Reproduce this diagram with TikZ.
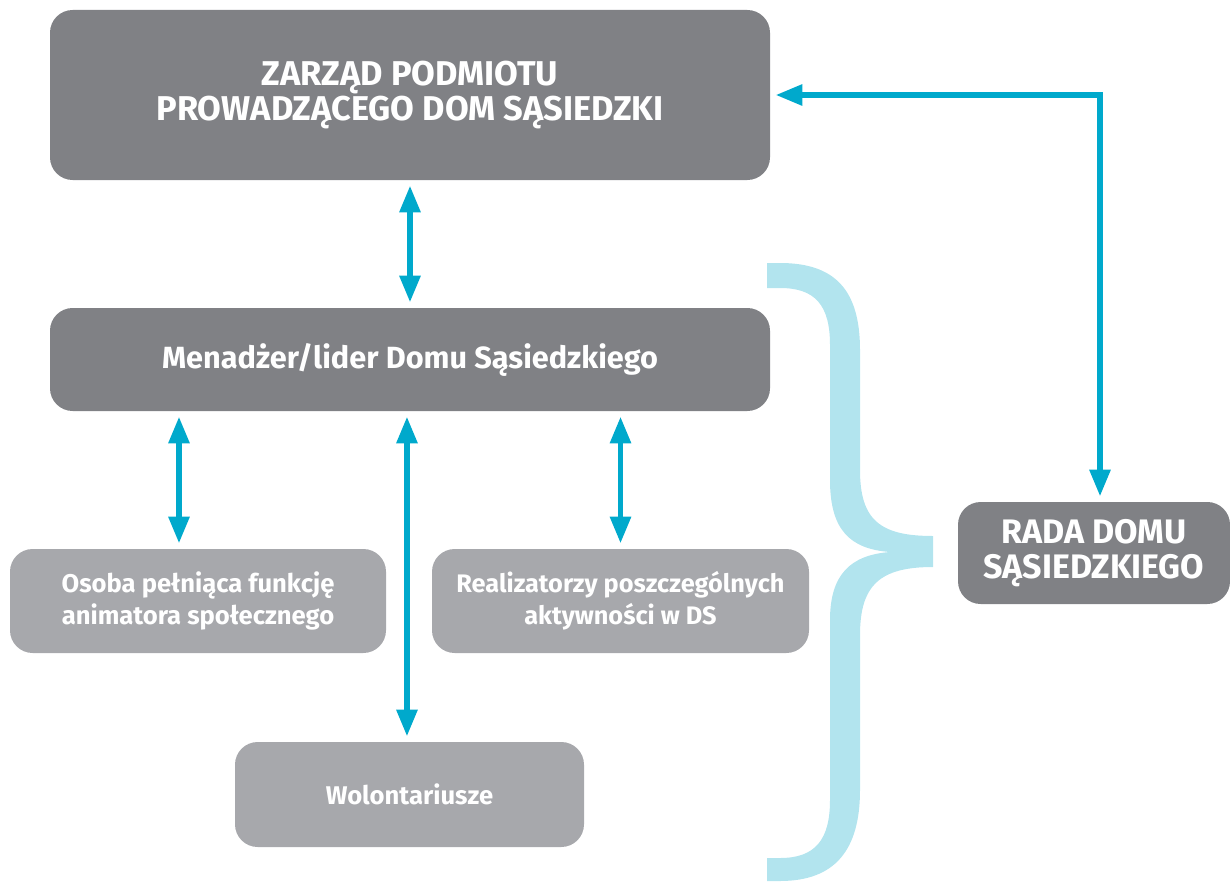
\documentclass[tikz,border=0pt]{standalone}
\usepackage{fontspec}
\setmainfont{Fira Sans}
\usetikzlibrary{arrows.meta,calc}
\definecolor{darkg}{RGB}{128,129,133}
\definecolor{lightg}{RGB}{167,168,172}
\definecolor{arrc}{RGB}{0,169,204}
\definecolor{bracec}{RGB}{178,228,238}
\begin{document}
\begin{tikzpicture}[x=0.75pt,y=-0.75pt,
  box/.style={rounded corners=17pt, inner sep=0pt, align=center, text=white, font=\bfseries},
  darkbox/.style={box, fill=darkg},
  lightbox/.style={box, fill=lightg},
  arr/.style={line width=4.2pt, draw=arrc,
    {Triangle[length=20pt,width=15pt]}-{Triangle[length=20pt,width=15pt]},
    shorten <=4pt, shorten >=4pt}]
\useasboundingbox (0,0) rectangle (1230,881);
% brace
\fill[bracec] (767,263) -- (780,263) .. controls (835,263) and (860,290) .. (860,350)
  -- (860,470) .. controls (860,520) and (880,536) .. (933,536)
  -- (933,567) .. controls (880,567) and (860,585) .. (860,635)
  -- (860,790) .. controls (860,850) and (835,881) .. (780,881) -- (767,881)
  -- (767,858) -- (780,858) .. controls (815,858) and (830,840) .. (830,800)
  -- (830,620) .. controls (830,575) and (850,555) .. (890,552)
  .. controls (850,549) and (830,530) .. (830,480)
  -- (830,345) .. controls (830,305) and (815,288) .. (780,288) -- (767,288) -- cycle;
% boxes
\node[darkbox, minimum width=540pt, minimum height=127.5pt,
  font=\bfseries\fontsize{25.8}{26.3}\selectfont] (zarzad) at (410,95)
  {ZARZĄD PODMIOTU\\PROWADZĄCEGO DOM SĄSIEDZKI};
\node[darkbox, minimum width=540pt, minimum height=77.25pt,
  font=\bfseries\fontsize{23}{26}\selectfont] (menadzer) at (410,359.5)
  {Menadżer/lider Domu Sąsiedzkiego};
\node[lightbox, minimum width=282pt, minimum height=78pt,
  font=\bfseries\fontsize{19.2}{24}\selectfont] (osoba) at (198,601)
  {Osoba pełniąca funkcję\\animatora społecznego};
\node[lightbox, minimum width=282.75pt, minimum height=78pt,
  font=\bfseries\fontsize{19}{24}\selectfont] (real) at (620.5,601)
  {Realizatorzy poszczególnych\\aktywności w DS};
\node[lightbox, minimum width=261.75pt, minimum height=78.75pt,
  font=\bfseries\fontsize{19.2}{24}\selectfont] (wolo) at (409.5,794.5)
  {Wolontariusze};
\node[darkbox, minimum width=204pt, minimum height=76.5pt,
  font=\bfseries\fontsize{25.5}{26.3}\selectfont] (rada) at (1094,553)
  {RADA DOMU\\SĄSIEDZKIEGO};
% connectors
\draw[arr] (zarzad.south) -- (menadzer.north);
\draw[arr] ([xshift=-14.25pt]osoba.north |- menadzer.south) -- ([xshift=-14.25pt]osoba.north);
\draw[arr] ([xshift=-1.9pt]wolo.north |- menadzer.south) -- ([xshift=-1.9pt]wolo.north);
\draw[arr] (real.north |- menadzer.south) -- (real.north);
\draw[arr] (zarzad.east) -| ([xshift=4.5pt]rada.north);
\end{tikzpicture}
\end{document}
